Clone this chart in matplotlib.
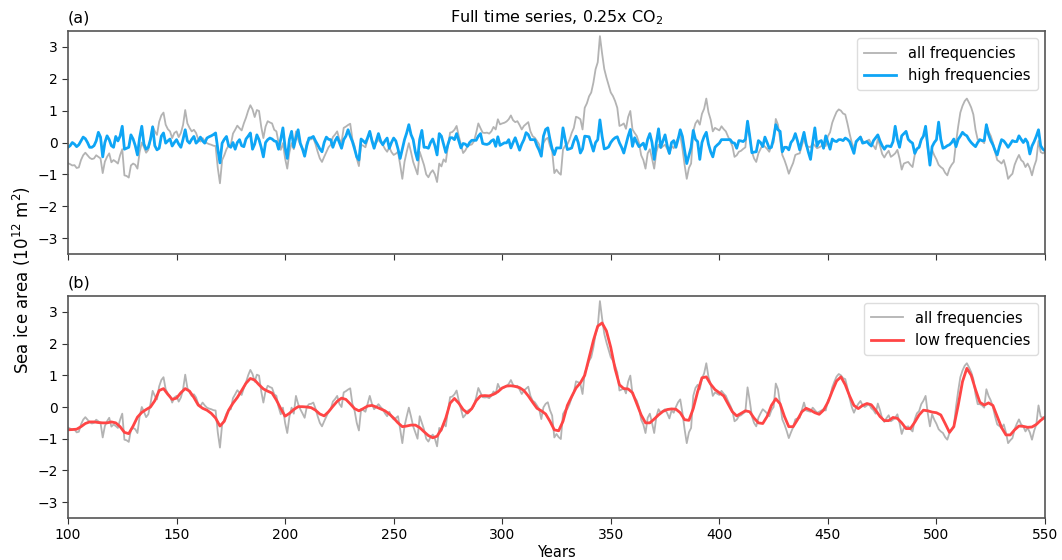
import numpy as np
import matplotlib
matplotlib.use("Agg")
import matplotlib.pyplot as plt

# Years
start_year, end_year = 100, 550

# All frequencies (yearly, 100..550)
all_freq = [
    -0.65, -0.68, -0.72, -0.71, -0.80, -0.78, -0.55, -0.40, -0.32, -0.40,
    -0.48, -0.52, -0.50, -0.40, -0.45, -0.50, -0.96, -0.60, -0.45, -0.34,
    -0.62, -0.55, -0.60, -0.66, -0.40, -0.21, -1.03, -1.05, -1.10, -0.72,
    -0.66, -0.70, -0.82, -0.30, 0.00, -0.15, -0.32, -0.23, 0.10, 0.51,
    0.35, 0.24, 0.65, 0.85, 0.94, 0.56, 0.42, 0.35, 0.14, 0.30,
    0.35, 0.17, 0.30, 0.55, 1.02, 0.60, 0.46, 0.35, 0.40, 0.30,
    0.10, 0.03, 0.14, 0.05, -0.02, -0.05, -0.07, -0.10, -0.11, -0.80,
    -1.28, -0.55, -0.40, -0.21, -0.10, -0.07, 0.28, 0.40, 0.53, 0.45,
    0.38, 0.60, 0.78, 1.00, 1.17, 1.04, 0.80, 1.02, 0.99, 0.50,
    0.14, 0.50, 0.67, 0.63, 0.60, 0.40, 0.35, 0.00, -0.23, -0.02,
    -0.50, -0.82, -0.30, -0.02, -0.21, 0.35, 0.10, -0.07, -0.20, -0.34,
    0.00, 0.09, 0.10, 0.14, -0.05, -0.29, -0.50, -0.61, -0.45, -0.30,
    -0.15, -0.07, 0.17, 0.25, 0.35, 0.10, 0.00, 0.46, 0.50, 0.55,
    0.59, 0.10, -0.11, -0.50, -0.74, -0.07, -0.10, -0.15, 0.10, 0.35,
    0.10, -0.07, 0.00, 0.09, 0.00, -0.07, -0.20, -0.29, -0.15, -0.30,
    -0.39, -0.35, -0.29, -0.70, -1.14, -0.61, -0.30, -0.02, -0.30, -0.61,
    -0.80, -1.00, -0.29, -0.50, -0.71, -1.00, -1.09, -0.95, -0.87, -1.00,
    -1.24, -0.66, -0.75, -0.53, -0.61, -0.12, 0.31, 0.33, 0.40, 0.52,
    0.20, -0.06, -0.33, -0.25, -0.12, -0.08, -0.06, 0.04, 0.30, 0.60,
    0.45, 0.31, 0.30, 0.31, 0.28, 0.35, 0.49, 0.41, 0.73, 0.57,
    0.60, 0.62, 0.66, 0.73, 0.85, 0.70, 0.64, 0.67, 0.55, 0.41,
    0.52, 0.58, 0.64, 0.35, 0.20, 0.15, 0.05, -0.06, -0.38, -0.01,
    0.10, 0.15, -0.10, -0.27, -0.96, -0.85, -0.95, -1.01, -0.22, -0.10,
    -0.06, 0.09, 0.30, 0.46, 0.81, 0.78, 0.73, 0.41, 1.09, 1.23,
    1.45, 1.57, 1.88, 2.30, 2.52, 3.34, 2.80, 2.31, 2.04, 1.80,
    1.57, 1.46, 1.30, 1.09, 0.52, 0.55, 0.60, 0.43, 0.80, 0.99,
    0.41, 0.30, 0.20, -0.01, -0.40, -0.55, -0.82, -0.34, -0.21, -0.50,
    -0.82, -0.30, -0.07, -0.18, -0.12, -0.07, -0.20, -0.36, -0.11, -0.18,
    0.00, 0.15, 0.24, -0.18, -0.70, -1.14, -0.80, -0.66, 0.35, 0.60,
    0.70, 0.56, 0.90, 1.06, 1.38, 0.95, 0.72, 0.35, 0.46, 0.42,
    0.38, 0.51, 0.42, 0.35, 0.19, 0.05, -0.11, -0.45, -0.40, -0.29,
    -0.26, -0.20, -0.15, 0.62, 0.20, -0.29, -0.50, -0.61, -0.34, -0.20,
    -0.07, -0.13, -0.20, -0.29, -0.10, 0.00, 0.74, 0.56, 0.10, -0.39,
    -0.55, -0.75, -0.98, -0.80, -0.64, -0.39, -0.36, -0.34, -0.10, 0.14,
    -0.11, -0.13, -0.15, -0.02, -0.10, -0.18, -0.15, -0.11, -0.07, -0.11,
    0.20, 0.32, 0.62, 0.80, 0.96, 1.04, 1.00, 0.91, 0.88, 0.60,
    0.28, 0.00, -0.18, -0.02, 0.10, 0.19, 0.05, 0.00, 0.05, 0.09,
    -0.04, -0.10, -0.21, 0.11, -0.10, -0.36, -0.47, -0.35, -0.26, -0.45,
    -0.40, -0.34, -0.23, -0.50, -0.85, -0.66, -0.63, -0.61, -0.70, -0.77,
    -0.39, -0.20, -0.13, 0.09, 0.20, 0.35, -0.20, -0.61, -0.23, -0.40,
    -0.53, -0.70, -0.77, -0.82, -0.95, -1.03, -0.82, -0.70, -0.61, 0.00,
    0.50, 0.94, 1.15, 1.30, 1.38, 1.25, 1.10, 0.88, 0.40, 0.09,
    0.09, 0.05, -0.02, 0.56, 0.35, 0.21, 0.00, -0.30, -0.55, -0.60,
    -0.66, -0.55, -0.80, -1.14, -1.05, -0.98, -0.70, -0.53, -0.39, -0.55,
    -0.61, -0.77, -0.66, -0.80, -1.03, -0.75, -0.55, 0.05, -0.30, -0.34,
    -0.30,
]

# High frequencies (yearly, 100..550)
high_freq = [
    -0.15, -0.10, 0.00, -0.05, -0.13, -0.07, 0.05, 0.17, 0.12, 0.00,
    -0.15, -0.15, -0.10, 0.05, 0.32, 0.17, -0.45, 0.00, 0.21, 0.09,
    -0.10, -0.15, 0.19, 0.05, 0.20, 0.51, -0.21, -0.18, -0.15, 0.24,
    0.11, -0.10, -0.39, 0.15, 0.51, -0.05, -0.21, -0.15, 0.10, 0.49,
    -0.10, -0.23, -0.18, 0.20, 0.30, -0.02, 0.05, 0.11, -0.11, 0.00,
    0.09, -0.05, -0.15, 0.10, 0.40, 0.05, -0.02, 0.10, 0.19, -0.02,
    0.05, 0.17, 0.05, -0.02, 0.14, 0.18, 0.21, 0.25, 0.30, -0.20,
    -0.64, -0.02, 0.10, 0.19, -0.10, -0.15, 0.00, -0.21, 0.00, 0.09,
    -0.10, -0.13, 0.11, 0.20, 0.30, -0.21, -0.05, 0.24, 0.09, -0.15,
    -0.45, 0.00, 0.09, 0.14, 0.11, 0.05, 0.03, -0.21, 0.10, 0.46,
    -0.15, -0.50, 0.10, 0.35, -0.15, 0.15, 0.40, -0.02, -0.20, -0.43,
    -0.10, 0.14, 0.15, 0.19, 0.05, -0.07, -0.20, -0.29, 0.00, 0.17,
    0.10, 0.09, -0.15, 0.05, 0.17, 0.00, -0.18, 0.09, 0.20, 0.40,
    0.20, 0.03, -0.20, -0.45, -0.55, 0.11, 0.05, -0.02, 0.15, 0.35,
    0.05, -0.18, 0.05, 0.28, 0.05, -0.07, 0.05, 0.14, -0.18, 0.00,
    0.14, 0.05, -0.20, -0.50, -0.20, 0.09, 0.30, 0.56, 0.25, 0.09,
    -0.30, -0.55, 0.10, 0.38, -0.15, -0.15, -0.18, 0.00, 0.11, -0.10,
    -0.39, 0.28, 0.20, -0.05, -0.31, -0.06, 0.15, 0.15, 0.09, 0.28,
    0.05, -0.17, -0.03, -0.05, -0.12, 0.00, 0.07, 0.07, 0.07, 0.20,
    0.28, -0.03, -0.05, -0.06, -0.03, 0.05, 0.09, -0.12, 0.18, -0.09,
    -0.05, -0.01, -0.01, 0.09, -0.17, 0.00, 0.15, -0.05, -0.24, -0.05,
    0.09, 0.31, 0.25, 0.09, 0.09, 0.09, -0.10, -0.24, -0.43, 0.20,
    0.41, 0.46, 0.10, -0.20, -0.38, -0.17, -0.17, -0.17, 0.46, 0.10,
    -0.22, -0.20, -0.17, 0.05, 0.20, 0.00, -0.33, -0.20, 0.20, 0.19,
    0.18, -0.05, -0.27, 0.00, 0.09, 0.71, 0.20, -0.20, -0.18, -0.14,
    0.00, 0.09, 0.15, 0.18, -0.01, -0.15, -0.33, -0.06, 0.20, 0.41,
    -0.12, 0.15, 0.00, -0.13, -0.08, -0.02, -0.21, 0.10, 0.28, 0.00,
    -0.53, 0.00, 0.43, -0.15, 0.05, 0.24, -0.10, -0.34, 0.00, 0.06,
    -0.15, 0.10, 0.40, 0.19, -0.25, -0.66, -0.40, -0.15, 0.38, 0.10,
    0.03, -0.53, 0.00, 0.19, 0.32, -0.05, -0.29, -0.45, -0.15, -0.08,
    -0.02, 0.09, 0.09, 0.09, 0.09, 0.09, 0.00, -0.02, -0.18, 0.06,
    0.05, 0.03, 0.10, 0.67, 0.20, -0.32, -0.30, -0.29, 0.06, 0.00,
    -0.13, 0.17, 0.00, -0.18, -0.15, 0.15, 0.56, 0.40, 0.35, -0.29,
    -0.15, -0.15, -0.23, 0.00, 0.09, 0.28, 0.05, -0.23, 0.05, 0.32,
    -0.04, -0.30, -0.53, 0.00, 0.46, -0.11, 0.03, 0.06, -0.18, 0.21,
    0.00, -0.21, 0.11, 0.05, 0.03, 0.09, 0.09, 0.06, 0.14, 0.10,
    0.03, -0.15, -0.34, 0.03, 0.10, 0.17, -0.02, 0.00, 0.03, -0.05,
    -0.11, 0.06, 0.15, 0.24, 0.05, -0.10, -0.21, -0.11, -0.11, -0.13,
    0.03, 0.51, 0.10, -0.15, 0.21, 0.28, 0.35, 0.10, 0.03, -0.02,
    -0.34, -0.20, -0.15, 0.09, 0.20, 0.51, -0.10, -0.71, -0.13, 0.00,
    0.09, 0.64, 0.10, -0.18, -0.15, -0.10, -0.07, 0.00, 0.11, -0.13,
    0.10, 0.20, 0.32, 0.25, 0.21, 0.09, 0.00, -0.07, -0.13, 0.00,
    0.09, 0.06, 0.06, 0.56, 0.25, 0.06, -0.07, -0.25, -0.39, -0.13,
    0.09, 0.05, -0.04, -0.15, -0.05, 0.06, 0.03, 0.03, 0.21, 0.10,
    0.00, 0.11, 0.00, -0.36, -0.11, 0.03, 0.20, 0.40, -0.10, -0.21,
    -0.26,
]

# Low frequencies (every 2 years, 100..550)
low_freq = [
    -0.72, -0.71, -0.70, -0.62, -0.52, -0.47, -0.47, -0.49, -0.50, -0.50,
    -0.47, -0.50, -0.62, -0.80, -0.84, -0.60, -0.32, -0.17, -0.08, 0.00,
    0.20, 0.52, 0.58, 0.40, 0.24, 0.28, 0.45, 0.58, 0.50, 0.30,
    0.06, -0.04, -0.10, -0.20, -0.35, -0.60, -0.45, -0.10, 0.12, 0.30,
    0.52, 0.75, 0.90, 0.85, 0.70, 0.57, 0.50, 0.44, 0.22, -0.05,
    -0.29, -0.20, -0.08, 0.01, 0.01, 0.00, -0.02, -0.10, -0.22, -0.28,
    -0.15, 0.02, 0.18, 0.28, 0.24, 0.10, -0.05, -0.12, -0.05, 0.03,
    0.05, 0.00, -0.06, -0.12, -0.22, -0.35, -0.50, -0.62, -0.60, -0.57,
    -0.57, -0.65, -0.78, -0.90, -0.97, -0.92, -0.70, -0.35, 0.12, 0.27,
    0.12, -0.08, -0.19, -0.05, 0.20, 0.35, 0.36, 0.35, 0.40, 0.48,
    0.60, 0.66, 0.67, 0.65, 0.61, 0.52, 0.35, 0.15, -0.04, -0.12,
    -0.22, -0.45, -0.72, -0.75, -0.45, 0.05, 0.33, 0.60, 0.76, 1.00,
    1.55, 2.10, 2.55, 2.65, 2.40, 1.88, 1.20, 0.70, 0.58, 0.57,
    0.45, 0.10, -0.25, -0.50, -0.50, -0.38, -0.25, -0.14, -0.08, -0.06,
    -0.07, -0.18, -0.40, -0.42, -0.05, 0.48, 0.92, 0.95, 0.72, 0.55,
    0.45, 0.35, 0.10, -0.15, -0.28, -0.20, -0.12, -0.15, -0.35, -0.50,
    -0.52, -0.30, 0.05, 0.26, 0.10, -0.30, -0.62, -0.62, -0.40, -0.15,
    -0.04, -0.10, -0.18, -0.23, -0.10, 0.15, 0.50, 0.82, 0.95, 0.70,
    0.35, 0.05, -0.05, 0.05, 0.11, 0.07, -0.10, -0.30, -0.43, -0.43,
    -0.33, -0.36, -0.50, -0.68, -0.68, -0.48, -0.25, -0.10, -0.12, -0.16,
    -0.18, -0.25, -0.52, -0.80, -0.62, 0.05, 0.80, 1.22, 1.00, 0.55,
    0.15, 0.06, 0.13, 0.05, -0.30, -0.65, -0.88, -0.88, -0.72, -0.60,
    -0.61, -0.64, -0.63, -0.55, -0.42, -0.32,
]

years = np.arange(start_year, end_year + 1)
years_low = np.arange(start_year, end_year + 1, 2)

x_ticks = [100, 150, 200, 250, 300, 350, 400, 450, 500, 550]
y_ticks = [-3, -2, -1, 0, 1, 2, 3]

c_all = "#b3b3b3"
c_high = "#0ea5f5"
c_low = "#ff4545"
spine_c = "#555555"

plt.rcParams["font.family"] = ["DejaVu Sans"]
fig = plt.figure(figsize=(10.62, 5.60), dpi=100)
ax1 = fig.add_axes([0.064, 0.5464, 0.920, 0.3982])
ax2 = fig.add_axes([0.064, 0.0750, 0.920, 0.3964])

for ax in (ax1, ax2):
    ax.set_xlim(100, 550)
    ax.set_ylim(-3.5, 3.5)
    ax.set_xticks(x_ticks)
    ax.set_yticks(y_ticks)
    ax.tick_params(labelsize=10, color="#333333", length=4)
    for s in ax.spines.values():
        s.set_color(spine_c)
        s.set_linewidth(1.2)

ax1.plot(years, all_freq, color=c_all, lw=1.3, label="all frequencies")
ax1.plot(years, high_freq, color=c_high, lw=2.0, label="high frequencies")
ax1.set_xticklabels([])
ax1.legend(loc="upper right", fontsize=10.5, framealpha=1, edgecolor="#dddddd",
           handlelength=2.2, borderpad=0.5)
ax1.set_title("Full time series, 0.25x CO$_2$", fontsize=11.5, pad=6)
ax1.text(0.0, 1.025, "(a)", transform=ax1.transAxes, fontsize=11.5, ha="left", va="bottom")

ax2.plot(years, all_freq, color=c_all, lw=1.3, label="all frequencies")
ax2.plot(years_low, low_freq, color=c_low, lw=2.0, label="low frequencies")
ax2.legend(loc="upper right", fontsize=10.5, framealpha=1, edgecolor="#dddddd",
           handlelength=2.2, borderpad=0.5)
ax2.text(0.0, 1.025, "(b)", transform=ax2.transAxes, fontsize=11.5, ha="left", va="bottom")
ax2.set_xlabel("Years", fontsize=10.5, labelpad=2)

fig.text(0.021, 0.5, "Sea ice area (10$^{12}$ m$^2$)", rotation=90, fontsize=12,
         ha="center", va="center")

fig.savefig("out.png", dpi=100)
